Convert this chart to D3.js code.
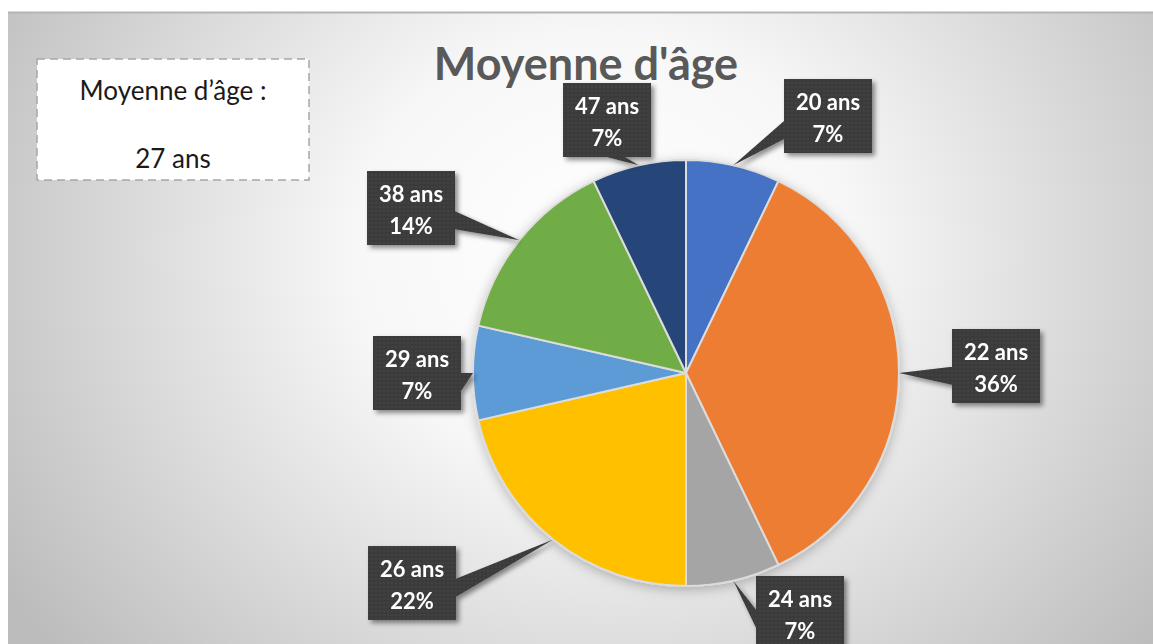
<!DOCTYPE html>
<html>
<head>
<meta charset="utf-8">
<script src="https://cdn.jsdelivr.net/npm/d3@7"></script>
<style>
  html, body { margin: 0; padding: 0; background: #fff; }
  svg { display: block; font-family: Lato, "Open Sans", sans-serif; }
</style>
</head>
<body>
<div id="chart"></div>
<script>
// data
const ages = ['20 ans', '22 ans', '24 ans', '26 ans', '29 ans', '38 ans', '47 ans'];
const counts = [1, 5, 1, 3, 1, 2, 1];
const pctLabels = ['7%', '36%', '7%', '22%', '7%', '14%', '7%'];
const colors = ['#4472C4', '#ED7D31', '#A5A5A5', '#FFC000', '#5B9BD5', '#70AD47', '#264478'];
const title = "Moyenne d'âge";
const noteLines = ['Moyenne d’âge :', '27 ans'];

// label box centres, relative to pie centre (moved by hand in the original)
const labelOffsets = [[142, -257], [310, -7], [114, 240], [-274, 210], [-269, 0], [-275, -165], [-79, -253]];

const width = 1153;
const height = 644;
const cx = 686, cy = 373, radius = 213;

const svg = d3.select('#chart').append('svg')
  .attr('width', width)
  .attr('height', height);

const defs = svg.append('defs');

// radial background
const bg = defs.append('radialGradient')
  .attr('id', 'bg')
  .attr('cx', '52%').attr('cy', '38%')
  .attr('r', '62%')
  .attr('gradientTransform', 'translate(0.52,0.38) scale(1,1.6) translate(-0.52,-0.38)');
bg.append('stop').attr('offset', '0%').attr('stop-color', '#ffffff');
bg.append('stop').attr('offset', '35%').attr('stop-color', '#f7f7f7');
bg.append('stop').attr('offset', '100%').attr('stop-color', '#bcbcbc');

// dotted texture for the labels
const pat = defs.append('pattern')
  .attr('id', 'dots')
  .attr('width', 4).attr('height', 4)
  .attr('patternUnits', 'userSpaceOnUse');
pat.append('rect').attr('width', 4).attr('height', 4).attr('fill', '#3b3b3b');
pat.append('circle').attr('cx', 2).attr('cy', 2).attr('r', 0.8).attr('fill', '#4d4d4d');

const shadow = defs.append('filter').attr('id', 'shadow')
  .attr('x', '-20%').attr('y', '-20%').attr('width', '140%').attr('height', '140%');
shadow.append('feDropShadow')
  .attr('dx', 3).attr('dy', 3).attr('stdDeviation', 2.5)
  .attr('flood-color', '#000').attr('flood-opacity', 0.45);

const pieShadow = defs.append('filter').attr('id', 'pieShadow')
  .attr('x', '-20%').attr('y', '-20%').attr('width', '140%').attr('height', '140%');
pieShadow.append('feDropShadow')
  .attr('dx', 0).attr('dy', 3).attr('stdDeviation', 6)
  .attr('flood-color', '#000').attr('flood-opacity', 0.25);

// chart area
svg.append('rect')
  .attr('x', 8).attr('y', 12)
  .attr('width', width - 8).attr('height', height - 12)
  .attr('fill', 'url(#bg)');
svg.append('line')
  .attr('x1', 8).attr('x2', width)
  .attr('y1', 12.5).attr('y2', 12.5)
  .attr('stroke', '#b4b4b4').attr('stroke-width', 2);

// title
svg.append('text')
  .attr('x', 586).attr('y', 80)
  .attr('text-anchor', 'middle')
  .attr('font-size', 45)
  .attr('font-weight', 'bold')
  .attr('fill', '#595959')
  .text(title);

// text box top left
svg.append('rect')
  .attr('x', 37).attr('y', 59)
  .attr('width', 272).attr('height', 121)
  .attr('fill', '#fff')
  .attr('stroke', '#a6a6a6')
  .attr('stroke-width', 1.5)
  .attr('stroke-dasharray', '8 5');
svg.selectAll('.note')
  .data(noteLines)
  .enter()
  .append('text')
    .attr('class', 'note')
    .attr('x', 173)
    .attr('y', (d, i) => 100 + i * 68)
    .attr('text-anchor', 'middle')
    .attr('font-size', 26)
    .attr('fill', '#1a1a1a')
    .text(d => d);

// pie
const data = ages.map((a, i) => ({age: a, count: counts[i], pct: pctLabels[i], color: colors[i], off: labelOffsets[i]}));

const pie = d3.pie().sort(null).value(d => d.count);
const arc = d3.arc().innerRadius(0).outerRadius(radius);
const edgeArc = d3.arc().innerRadius(radius).outerRadius(radius);

const g = svg.append('g').attr('transform', `translate(${cx},${cy})`);
const arcs = pie(data);

g.append('g')
  .attr('filter', 'url(#pieShadow)')
  .selectAll('path')
  .data(arcs)
  .enter()
  .append('path')
    .attr('d', arc)
    .attr('fill', d => d.data.color)
    .attr('stroke', '#dcdcdc')
    .attr('stroke-width', 2)
    .attr('stroke-linejoin', 'round');

// callout labels
const labels = g.append('g').selectAll('g')
  .data(arcs)
  .enter()
  .append('g')
    .attr('filter', 'url(#shadow)');

const boxW = 88, boxH = 74;

labels.append('path')
  .attr('fill', 'url(#dots)')
  .attr('d', d => {
    const [tx, ty] = edgeArc.centroid(d);
    const [ox, oy] = d.data.off;
    const x0 = ox - boxW / 2, x1 = ox + boxW / 2;
    const y0 = oy - boxH / 2, y1 = oy + boxH / 2;
    // base of the wedge on the box side facing the tip
    const dx = tx - ox, dy = ty - oy;
    let a, b;
    if (Math.abs(dx) / boxW > Math.abs(dy) / boxH) {
      const sx = dx > 0 ? x1 : x0;
      const my = Math.max(y0 + 4, Math.min(y1 - 22, oy + dy * 0.1));
      a = [sx, my]; b = [sx, my + 18];
    } else {
      const sy = dy > 0 ? y1 : y0;
      const mx = Math.max(x0 + 4, Math.min(x1 - 22, ox + dx * 0.25 - 8));
      a = [mx, sy]; b = [mx + 18, sy];
    }
    const box = `M${x0},${y0}H${x1}V${y1}H${x0}Z`;
    const wedge = `M${a[0]},${a[1]}L${tx},${ty}L${b[0]},${b[1]}Z`;
    return box + wedge;
  });

labels.append('text')
  .attr('x', d => d.data.off[0])
  .attr('y', d => d.data.off[1] - 6)
  .attr('text-anchor', 'middle')
  .attr('font-size', 22)
  .attr('font-weight', 'bold')
  .attr('fill', '#fff')
  .text(d => d.data.age);

labels.append('text')
  .attr('x', d => d.data.off[0])
  .attr('y', d => d.data.off[1] + 26)
  .attr('text-anchor', 'middle')
  .attr('font-size', 22)
  .attr('font-weight', 'bold')
  .attr('fill', '#fff')
  .text(d => d.data.pct);
</script>
</body>
</html>
